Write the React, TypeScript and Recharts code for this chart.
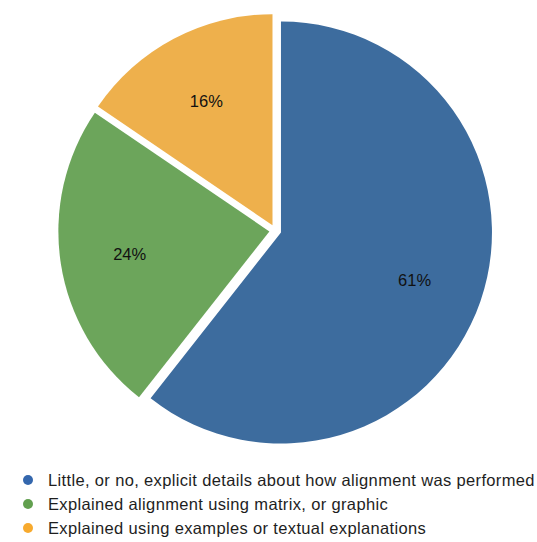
import { PieChart, Pie, Cell } from 'recharts';

document.body.style.margin = '0';

const categories = [
    'Little, or no, explicit details about how alignment was performed',
    'Explained alignment using matrix, or graphic',
    'Explained using examples or textual explanations',
];
const shares = [60.6, 23.9, 15.5];
const labels = ['61%', '24%', '16%'];
const sliceColors = ['#3d6c9e', '#6ca55b', '#eeb04c'];
const legendColors = ['#3467ad', '#62a04f', '#f7aa2e'];

const data = categories.map((name, i) => ({ name, value: shares[i] }));

const CX = 275.3;
const CY = 230.5;
const R = 211;
const EXPLODE = 6;
const RAD = Math.PI / 180;
const FONT = "'Liberation Sans', Arial, sans-serif";

const total = shares.reduce((a, b) => a + b, 0);
// offset of each exploded slice along its bisector
const offsets = shares.map((v, i) => {
    const before = shares.slice(0, i).reduce((a, b) => a + b, 0);
    const mid = 90 - (360 * (before + v / 2)) / total;
    return { dx: EXPLODE * Math.cos(mid * RAD), dy: -EXPLODE * Math.sin(mid * RAD) };
});

function makeLabel(only: number) {
    /* eslint-disable @typescript-eslint/no-explicit-any */
    return (props: any) => {
        const { cx, cy, midAngle, outerRadius, index } = props;
        if (index !== only) return null;
        const r = outerRadius * 0.67;
        const x = cx + r * Math.cos(-midAngle * RAD);
        const y = cy + r * Math.sin(-midAngle * RAD);
        return (
            <text
                x={x}
                y={y + 1}
                textAnchor="middle"
                dominantBaseline="central"
                fill="#111"
                fontSize={16.5}
                fontFamily={FONT}
            >
                {labels[index]}
            </text>
        );
    };
}

function ChartLegend() {
    return (
        <div
            style={{
                position: 'absolute',
                left: 23,
                top: 468,
                fontFamily: FONT,
                fontSize: 16.5,
                letterSpacing: 0.35,
                color: '#1e1e1e',
            }}
        >
            {categories.map((c, i) => (
                <div key={c} style={{ display: 'flex', alignItems: 'center', height: 24, whiteSpace: 'nowrap' }}>
                    <span
                        style={{
                            display: 'inline-block',
                            width: 10,
                            height: 10,
                            borderRadius: '50%',
                            background: legendColors[i],
                            marginRight: 15,
                        }}
                    />
                    <span>{c}</span>
                </div>
            ))}
        </div>
    );
}

export default function App() {
    return (
        <div style={{ position: 'relative', width: 537, height: 542 }}>
            <PieChart width={537} height={542} margin={{ top: 0, right: 0, bottom: 0, left: 0 }}>
                {sliceColors.map((color, idx) => (
                    <Pie
                        key={idx}
                        data={data}
                        dataKey="value"
                        nameKey="name"
                        cx={CX + offsets[idx].dx}
                        cy={CY + offsets[idx].dy}
                        outerRadius={R}
                        startAngle={90}
                        endAngle={-270}
                        stroke="none"
                        labelLine={false}
                        label={makeLabel(idx)}
                        isAnimationActive={false}
                    >
                        {data.map((d, i) => (
                            <Cell key={d.name} fill={i === idx ? color : 'transparent'} />
                        ))}
                    </Pie>
                ))}
            </PieChart>
            <ChartLegend />
        </div>
    );
}
